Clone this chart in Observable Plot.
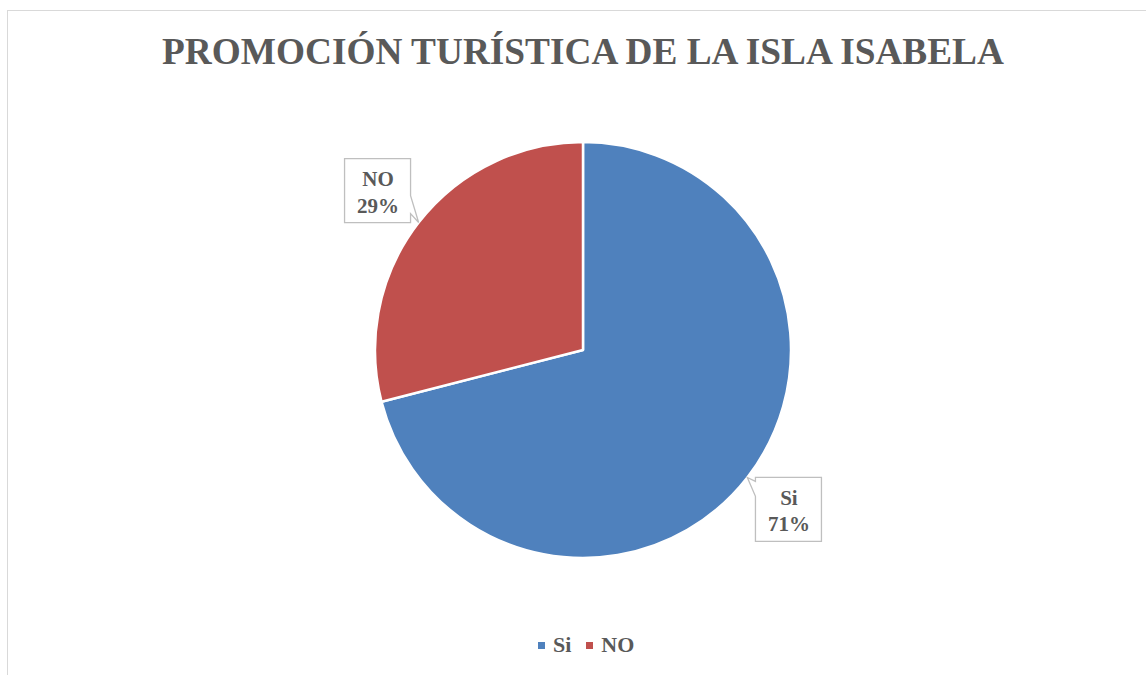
<!DOCTYPE html>
<html>
<head>
<meta charset="utf-8">
<script src="https://cdn.jsdelivr.net/npm/d3@7"></script>
<script src="https://cdn.jsdelivr.net/npm/@observablehq/plot@0.6"></script>
<style>
  html, body { margin: 0; padding: 0; background: #fff; }
  body { width: 1146px; height: 675px; overflow: hidden; position: relative; font-family: "Liberation Serif", "DejaVu Serif", serif; }
  #frame { position: absolute; left: 7px; top: 10px; width: 1152px; height: 700px; border: 1px solid #d9d9d9; box-sizing: border-box; }
  #title { position: absolute; left: 0; top: 33px; width: 1166px; text-align: center; font-family: "Liberation Serif", "DejaVu Serif", serif; font-size: 37.3px; line-height: 37px; font-weight: bold; color: #595959; z-index: 2; white-space: nowrap; }
  #chart { position: absolute; left: 0; top: 0; z-index: 1; }
  #legend { position: absolute; left: 538px; top: 632px; display: flex; align-items: center; font-family: "Liberation Serif", "DejaVu Serif", serif; font-size: 22px; font-weight: bold; color: #595959; z-index: 2; }
  #legend .sw { width: 7px; height: 7px; display: inline-block; margin-right: 8px; }
  #legend .item { display: flex; align-items: center; margin-right: 15px; }
</style>
</head>
<body>
<div id="frame"></div>
<div id="title"></div>
<div id="chart"></div>
<div id="legend"></div>
<script>
// ---- data ----
const categories = ["Si", "NO"];
const values = [71, 29];
const colors = ["#4f81bd", "#c0504d"];
const chartTitle = "PROMOCIÓN TURÍSTICA DE LA ISLA ISABELA";

const total = d3.sum(values);
const data = categories.map((name, i) => ({ name, value: values[i], color: colors[i] }));
const arcs = d3.pie().sort(null).value(d => d.value)(data);

const labelR = 1.25;
const labels = arcs.map(a => {
  const mid = (a.startAngle + a.endAngle) / 2;
  return {
    name: a.data.name,
    text: `${a.data.name}\n${Math.round(a.data.value / total * 100)}%`,
    lx: labelR * Math.sin(mid),
    ly: labelR * Math.cos(mid),
    tx: Math.sin(mid),
    ty: Math.cos(mid)
  };
});

const font = "Liberation Serif, DejaVu Serif, serif";

function sliceMark(index, scales) {
  const cx = scales.x(0), cy = scales.y(0);
  const r = scales.x(1) - scales.x(0);
  const arc = d3.arc().innerRadius(0).outerRadius(r);
  const g = d3.create("svg:g").attr("transform", `translate(${cx},${cy})`);
  g.selectAll("path").data(arcs).join("path")
    .attr("d", arc)
    .attr("fill", d => d.data.color)
    .attr("stroke", "white")
    .attr("stroke-width", 2.5)
    .attr("stroke-linejoin", "round");
  return g.node();
}

function calloutMark(index, scales) {
  const g = d3.create("svg:g");
  const w = 66, h = 64;
  for (const l of labels) {
    const cx = scales.x(l.lx), cy = scales.y(l.ly);
    const tx = scales.x(l.tx), ty = scales.y(l.ty);
    const L = cx - w / 2, R = cx + w / 2, T = cy - h / 2, B = cy + h / 2;
    let b1, b2;
    if (ty > cy) { b1 = B - 27; b2 = B - 9; } else { b1 = T + 4; b2 = T + 19; }
    let p;
    if (tx > R) {
      p = [[L, T], [R, T], [R, b1], [tx, ty], [R, b2], [R, B], [L, B]];
    } else {
      p = [[L, T], [R, T], [R, B], [L, B], [L, b2], [tx, ty], [L, b1]];
    }
    g.append("path")
      .attr("d", "M" + p.map(q => q.join(",")).join("L") + "Z")
      .attr("fill", "white")
      .attr("stroke", "#bfbfbf")
      .attr("stroke-width", 1.3);
  }
  return g.node();
}

const plot = Plot.plot({
  width: 1146,
  height: 675,
  margin: 0,
  style: { background: "transparent", fontFamily: font },
  x: { domain: [-1, 1], range: [375, 791], axis: null },
  y: { domain: [-1, 1], range: [558, 142], axis: null },
  marks: [
    sliceMark,
    calloutMark,
    Plot.text(labels, {
      x: "lx", y: "ly", text: "text",
      fontSize: 21, fontWeight: "bold", fontFamily: font,
      fill: "#595959", lineHeight: 1.25, textAnchor: "middle"
    })
  ]
});
document.getElementById("chart").appendChild(plot);

document.getElementById("title").textContent = chartTitle;
const legend = d3.select("#legend");
data.forEach(d => {
  const item = legend.append("div").attr("class", "item");
  item.append("span").attr("class", "sw").style("background", d.color);
  item.append("span").text(d.name);
});
</script>
</body>
</html>
